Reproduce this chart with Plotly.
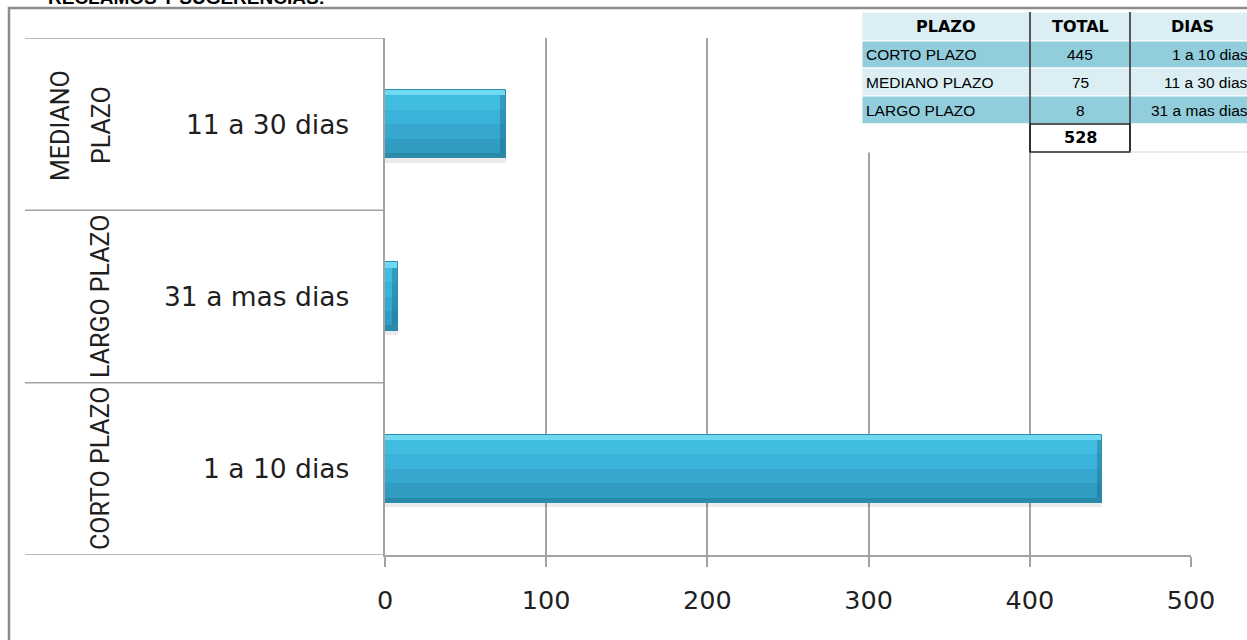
import plotly.graph_objects as go

W, H = 1247, 640

# ---------------- data ----------------
sub_labels = ["1 a 10 dias", "31 a mas dias", "11 a 30 dias"]      # bottom -> top
group_labels = ["CORTO PLAZO", "LARGO PLAZO", "MEDIANO PLAZO"]
values = [445, 8, 75]
x_ticks = [0, 100, 200, 300, 400, 500]

table_header = ["PLAZO", "TOTAL", "DIAS"]
table_plazo = ["CORTO PLAZO", "MEDIANO PLAZO", "LARGO PLAZO"]
table_total = [445, 75, 8]
table_dias = ["1 a 10 dias", "11 a 30 dias", "31 a mas dias"]
table_sum = 528

title_text = "RECLAMOS Y SUGERENCIAS:"


# ---------------- helpers (pixel -> paper) ----------------
def X(px):
    return px / W


def Y(py):
    return 1 - py / H


GRID = "#a3a3a3"
TXT = "#1f1f1f"
NARROW = "Roboto, Liberation Sans, Arial, sans-serif"
WIDE = "DejaVu Sans, Verdana, sans-serif"

BAR_W = 0.395
STRIP = 0.03
CAP = 3.5  # width of the bevelled right end, in axis units

fig = go.Figure()

# shadow
fig.add_trace(go.Bar(
    y=sub_labels, x=values, orientation="h",
    width=BAR_W, offset=-BAR_W / 2 - 0.025,
    marker=dict(color="rgba(0,0,0,0.08)", line=dict(width=0)),
    hoverinfo="skip", showlegend=False,
))

# pseudo-gradient face: bands from top to bottom
band_colors = ["#6fd9f3", "#41bde2", "#3bb2d9", "#36a8cf", "#319cc2", "#2a8aa7"]
inner = (BAR_W - 2 * STRIP) / 4
band_widths = [STRIP, inner, inner, inner, inner, STRIP]
top = BAR_W / 2
for col, bw in zip(band_colors, band_widths):
    fig.add_trace(go.Bar(
        y=sub_labels, x=values, orientation="h",
        width=bw, offset=top - bw,
        marker=dict(color=col, line=dict(width=0)),
        hoverinfo="skip", showlegend=False,
    ))
    top -= bw

# darker bevelled right end
fig.add_trace(go.Bar(
    y=sub_labels, x=[CAP] * len(values), base=[v - CAP for v in values],
    orientation="h", width=BAR_W - 2 * STRIP, offset=-BAR_W / 2 + STRIP,
    marker=dict(color="rgba(20,95,125,0.35)", line=dict(width=0)),
    hoverinfo="skip", showlegend=False,
))

# outline (carries hover)
fig.add_trace(go.Bar(
    y=sub_labels, x=values, orientation="h",
    width=BAR_W, offset=-BAR_W / 2,
    marker=dict(color="rgba(0,0,0,0)", line=dict(color="#2a8fae", width=1)),
    showlegend=False,
))

shapes = []
annotations = []

# outer frame
shapes.append(dict(type="rect", xref="paper", yref="paper",
                   x0=X(9), x1=X(W + 10), y0=Y(8), y1=Y(H + 10),
                   line=dict(color="#8c8c8c", width=2.5), fillcolor="rgba(0,0,0,0)"))

# category-area lines (left of the value axis)
for yv in [2.5, 1.5, 0.5, -0.5]:
    shapes.append(dict(type="line", xref="paper", yref="y",
                       x0=X(25), x1=X(385), y0=yv, y1=yv,
                       line=dict(color=GRID, width=1.5)))

# sub labels
for lab in sub_labels:
    annotations.append(dict(x=X(351), y=lab, xref="paper", yref="y",
                            xanchor="right", yanchor="middle", showarrow=False,
                            text=lab, font=dict(family=WIDE, size=26.5, color=TXT)))

# group labels (rotated)
group_pos = {
    "CORTO PLAZO": [(100, 468, "CORTO PLAZO")],
    "LARGO PLAZO": [(100, 297, "LARGO PLAZO")],
    "MEDIANO PLAZO": [(60, 126, "MEDIANO"), (101, 125, "PLAZO")],
}
for g in group_labels:
    for (px, py, t) in group_pos[g]:
        annotations.append(dict(x=X(px), y=Y(py), xref="paper", yref="paper",
                                xanchor="center", yanchor="middle", showarrow=False,
                                textangle=-90, text=t,
                                font=dict(family=NARROW, size=25, color=TXT)))

# title (cut off at top)
annotations.append(dict(x=X(46), y=Y(10), xref="paper", yref="paper",
                        xanchor="left", yanchor="bottom", showarrow=False,
                        text="<b>" + title_text + "</b>",
                        font=dict(family="Liberation Sans, Arial, sans-serif", size=19, color="#000")))

# ---------------- table ----------------
col_x = [862, 1030, 1130, 1254]
row_y = [12, 41, 68, 96, 124, 152]
light = "#daeef3"
dark = "#92cddc"
row_fill = [light, dark, light, dark, "#ffffff"]
for r in range(5):
    for c in range(3):
        shapes.append(dict(type="rect", xref="paper", yref="paper", layer="above",
                           x0=X(col_x[c]), x1=X(col_x[c + 1]),
                           y0=Y(row_y[r]), y1=Y(row_y[r + 1]),
                           fillcolor=row_fill[r], line=dict(color="#ffffff", width=1)))
# black vertical dividers
for cx in [1030, 1130]:
    shapes.append(dict(type="line", xref="paper", yref="paper", layer="above",
                       x0=X(cx), x1=X(cx), y0=Y(row_y[0]), y1=Y(row_y[-1]),
                       line=dict(color="#222", width=1.5)))
# box around total
shapes.append(dict(type="rect", xref="paper", yref="paper", layer="above",
                   x0=X(1030), x1=X(1130), y0=Y(124), y1=Y(152),
                   line=dict(color="#222", width=1.5), fillcolor="rgba(0,0,0,0)"))
shapes.append(dict(type="line", xref="paper", yref="paper", layer="above",
                   x0=X(1130), x1=X(1254), y0=Y(152), y1=Y(152),
                   line=dict(color="#c9d9ea", width=1)))

hdr_font = dict(family="DejaVu Sans, Arial, sans-serif", size=16, color="#000")
body_font = dict(family="Liberation Sans, Arial, sans-serif", size=15.5, color="#000")
for c, h in enumerate(table_header):
    annotations.append(dict(x=X((col_x[c] + col_x[c + 1]) / 2), y=Y(26.5),
                            xref="paper", yref="paper", xanchor="center", yanchor="middle",
                            showarrow=False, text="<b>" + h + "</b>", font=hdr_font))
for r in range(3):
    yc = Y((row_y[r + 1] + row_y[r + 2]) / 2)
    annotations.append(dict(x=X(864), y=yc, xref="paper", yref="paper",
                            xanchor="left", yanchor="middle", showarrow=False,
                            text=table_plazo[r], font=body_font))
    annotations.append(dict(x=X(1080), y=yc, xref="paper", yref="paper",
                            xanchor="center", yanchor="middle", showarrow=False,
                            text=str(table_total[r]), font=body_font))
    annotations.append(dict(x=X(1250), y=yc, xref="paper", yref="paper",
                            xanchor="right", yanchor="middle", showarrow=False,
                            text=table_dias[r], font=body_font))
annotations.append(dict(x=X(1080), y=Y(138), xref="paper", yref="paper",
                        xanchor="center", yanchor="middle", showarrow=False,
                        text="<b>" + str(table_sum) + "</b>", font=hdr_font))

fig.update_layout(
    width=W, height=H,
    margin=dict(l=0, r=0, t=0, b=0, autoexpand=False),
    paper_bgcolor="white", plot_bgcolor="white",
    barmode="overlay", bargap=0,
    showlegend=False,
    shapes=shapes, annotations=annotations,
    xaxis=dict(
        domain=[X(385), X(1191)], range=[0, 500],
        tickvals=x_ticks, ticktext=[str(v) for v in x_ticks],
        showgrid=True, gridcolor=GRID, gridwidth=1.5,
        zeroline=False, showline=True, linecolor=GRID, linewidth=1.5,
        ticks="outside", ticklen=10, tickcolor=GRID, tickwidth=1.5,
        tickfont=dict(family=WIDE, size=25.5, color=TXT),
        ticklabelstandoff=12, automargin=False, fixedrange=True,
    ),
    yaxis=dict(
        domain=[Y(555), Y(38)], type="category",
        categoryorder="array", categoryarray=sub_labels,
        range=[-0.5, 2.5], showticklabels=False, ticks="",
        showgrid=False, zeroline=False,
        showline=True, linecolor=GRID, linewidth=1.5,
        automargin=False, fixedrange=True,
    ),
)

fig.write_html(
    "out.html",
    config={"displayModeBar": False},
    post_script="document.body.style.margin='0px';document.body.style.overflow='hidden';",
)
